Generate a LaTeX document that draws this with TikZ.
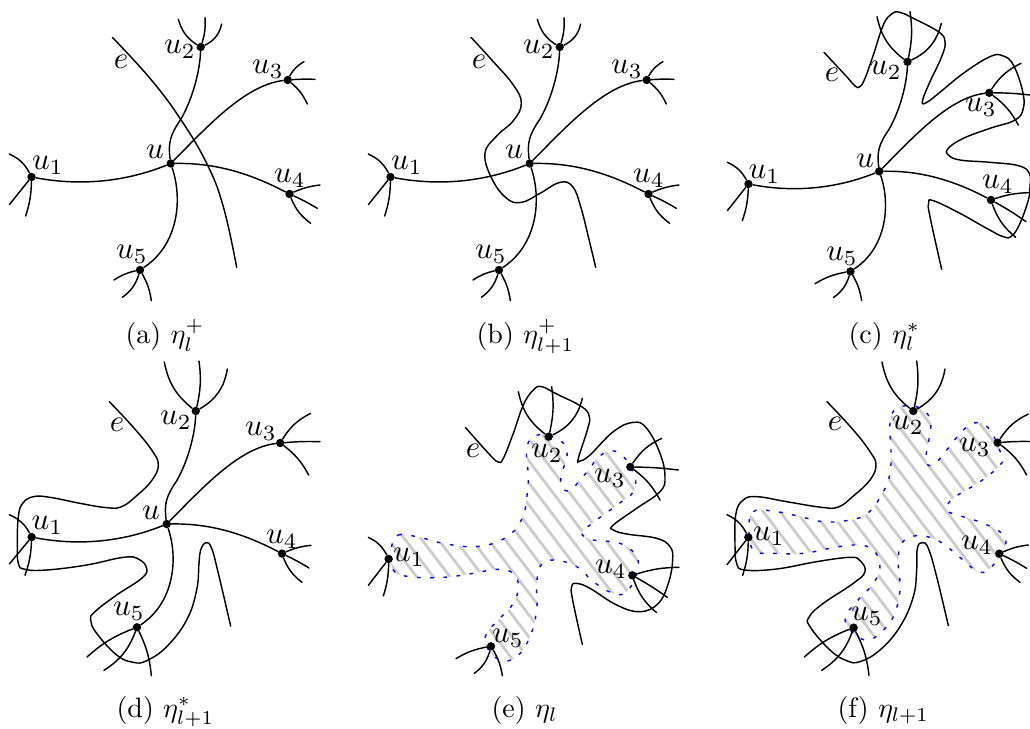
\documentclass[tikz,border=0pt]{standalone}
\tikzset{
  wire/.style={line width=0.72pt,line cap=round},
  dot/.style={circle,fill=black,inner sep=0pt,minimum size=4.2pt},
  lab/.style={scale=1.55,inner sep=0pt},
  captext/.style={scale=1.4,inner sep=0pt,anchor=base west},
  hatch/.style={line width=1.4pt,draw=black!20},
  rim/.style={line width=0.7pt,draw=blue,dash pattern=on 1.8pt off 4.8pt},
  curve/.style={wire,smooth,tension=0.7},
  zoomed/.style={shift={(#1)},scale=1/3},
}
\newcount\stubcount
\newcommand\stubto[3]{\global\advance\stubcount by 1
  \coordinate (stub\the\stubcount) at (#2);
  \draw[wire] (#1) to[bend left=#3] (stub\the\stubcount);}
\newcommand\fan[7]{\stubto{#1}{#2}{#3}\stubto{#1}{#4}{#5}\stubto{#1}{#6}{#7}}
\newcommand\fanI[4]{\fan{#1}{#2}{-18}{#3}{0}{#4}{8}}
\newcommand\fanII[4]{\fan{#1}{#2}{20}{#3}{-10}{#4}{-25}}
\newcommand\fanIII[4]{\fan{#1}{#2}{15}{#3}{3}{#4}{12}}
\newcommand\fanIV[4]{\fan{#1}{#2}{8}{#3}{3}{#4}{-15}}
\newcommand\fanV[4]{\fan{#1}{#2}{-10}{#3}{18}{#4}{10}}
% the centre u, its five neighbours and the five edges between them
\newcommand\hub[4]{\begin{scope}[shift={(#2,#3)},scale=#4]
  \node[dot] (#1u) at (0,0) {};
  \node[dot] (#1u1) at (-139.2,13.5) {};
  \node[dot] (#1u2) at (30,-116.5) {};
  \node[dot] (#1u3) at (117,-83.5) {};
  \node[dot] (#1u4) at (118.8,30.5) {};
  \node[dot] (#1u5) at (-30.7,106.5) {};
  \draw[wire] (#1u) .. controls (-40.7,16.5) and (-85.7,23.5) .. (#1u1);
  \draw[wire] (#1u) .. controls (-2.7,-20.5) and (-0.7,-28.5) .. (10.3,-44.5)
     .. controls (22.3,-65.5) and (29.3,-93.5) .. (#1u2);
  \draw[wire] (#1u) .. controls (36.3,-36.5) and (74.3,-78.5) .. (#1u3);
  \draw[wire] (#1u) .. controls (34.3,-0.5) and (69.3,4.5) .. (#1u4);
  \draw[wire] (#1u) .. controls (12.3,36.5) and (7.3,81.5) .. (#1u5);
\end{scope}}
\newcommand\lab[3]{\node[lab] (#1) at (#2) {$#3$};}
\newcommand\regionE{plot[smooth cycle,tension=0.7] coordinates {(125,530) (145,495) (200,500) (280,520) (360,530) (430,520) (490,485) (520,435) (530,385) (535,320) (530,240) (550,200) (600,197) (645,225) (650,265) (635,310) (635,350) (660,362) (690,330) (720,295) (745,262) (785,242) (825,265) (855,320) (850,365) (815,395) (760,435) (720,465) (695,490) (730,510) (810,520) (860,560) (860,610) (830,665) (790,670) (730,635) (680,590) (610,570) (570,590) (560,650) (560,720) (540,800) (500,860) (450,870) (410,830) (410,790) (450,745) (490,700) (505,650) (490,610) (440,598) (370,610) (280,622) (180,620) (130,600)}}
\newcommand\regionF{plot[smooth cycle,tension=0.7] coordinates {(177,470) (190,425) (240,422) (320,437) (400,455) (480,450) (535,428) (580,365) (600,310) (603,240) (600,160) (620,115) (680,110) (720,145) (718,200) (708,270) (730,285) (770,240) (820,180) (860,158) (900,180) (935,260) (925,290) (870,335) (790,385) (770,420) (810,437) (880,460) (935,490) (945,530) (900,595) (865,605) (825,575) (790,545) (740,510) (680,497) (635,520) (625,580) (630,660) (610,740) (570,790) (530,810) (490,790) (465,745) (500,695) (550,640) (570,590) (550,540) (500,525) (420,535) (340,550) (250,550) (190,540)}}
\begin{document}
\begin{tikzpicture}[x=0.5pt,y=-0.5pt]
\useasboundingbox (0,0) rectangle (1030,729);
% ---------- (a)
\begin{scope}[zoomed={0,0}]
  \draw[curve] plot coordinates {(337,112) (450,235) (540,355) (620,490) (670,620) (710,802)};
\end{scope}
\hub{a}{170.7}{163.5}{1}
\begin{scope}[zoomed={0,0}]
  \fanI{au1}{28,462}{28,614}{77,648}
  \fanII{au2}{535,58}{615,53}{665,72}
  \fanIII{au3}{912,185}{945,238}{922,312}
  \fanIV{au4}{960,555}{952,625}{932,670}
  \fanV{au5}{342,840}{367,892}{454,902}
\end{scope}
\lab{a1}{48,165}{u_1}\lab{a2}{180,49}{u_2}\lab{a3}{268,69}{u_3}\lab{a4}{290,178}{u_4}\lab{a5}{132,254}{u_5}\lab{a0}{155,152}{u}\lab{ae}{121,62}{e}
\node[captext] (capa) at (125,343) {(a)\ $\eta_l^+$};
% ---------- (b)
\begin{scope}[zoomed={350,0}]
  \draw[curve] plot coordinates {(363,112) (430,185) (490,255) (514,310) (490,362) (440,408) (405,460) (425,535) (470,595) (515,607) (570,580) (630,547) (668,560) (692,620) (715,710) (737,802)};
\end{scope}
\hub{b}{529.7}{163.5}{1}
\begin{scope}[zoomed={359,0}]
  \fanI{bu1}{28,462}{28,614}{77,648}
  \fanII{bu2}{535,58}{615,53}{665,72}
  \fanIII{bu3}{912,185}{945,238}{922,312}
  \fanIV{bu4}{960,555}{952,625}{932,670}
  \fanV{bu5}{342,840}{367,892}{454,902}
\end{scope}
\lab{b1}{407,165}{u_1}\lab{b2}{539,49}{u_2}\lab{b3}{627,69}{u_3}\lab{b4}{649,178}{u_4}\lab{b5}{491,254}{u_5}\lab{b0}{514,152}{u}\lab{be}{479,62}{e}
\node[captext] (capb) at (476,343) {(b)\ $\eta_{l+1}^+$};
% ---------- (c)
\begin{scope}[zoomed={690,0}]
  \draw[curve] plot coordinates {(402,157) (470,230) (495,258) (510,260) (525,235) (550,165) (580,75) (605,42) (630,37) (670,55) (745,95) (765,125) (755,170) (720,245) (698,300) (705,310) (740,285) (820,220) (900,170) (940,168) (970,195) (997,270) (1000,325) (975,360) (900,385) (820,415) (775,445) (775,465) (810,480) (900,487) (985,497) (1018,520) (1020,560) (1015,600) (990,670) (965,708) (940,710) (890,685) (810,640) (730,602) (716,610) (720,650) (755,808)};
\end{scope}
\hub{c}{879.3}{171.3}{0.94}
\begin{scope}[zoomed={690,0}]
  \fanI{cu1}{112,487}{112,632}{157,662}
  \fanII{cu2}{561,50}{660,35}{754,70}
  \fanIII{cu3}{993,190}{1020,285}{985,375}
  \fanIV{cu4}{1018,578}{1008,665}{977,712}
  \fanV{cu5}{375,851}{430,893}{515,902}
\end{scope}
\lab{c1}{764.5,174}{u_1}\lab{c2}{886,70.5}{u_2}\lab{c3}{981,107}{u_3}\lab{c4}{998,184}{u_4}\lab{c5}{842,256}{u_5}\lab{c0}{865,161}{u}\lab{ce}{832,75}{e}
\node[captext] (capc) at (848,343) {(c)\ $\eta_l^*$};
% ---------- (d)
\begin{scope}[zoomed={0,350}]
  \draw[curve] plot coordinates {(328,155) (400,232) (455,300) (475,345) (455,392) (410,437) (365,470) (320,473) (240,460) (150,442) (100,440) (68,460) (55,500) (52,580) (55,640) (75,658) (140,660) (260,645) (370,622) (415,627) (440,655) (425,685) (350,735) (285,785) (272,810) (290,850) (350,915) (400,937) (440,932) (500,890) (560,810) (590,720) (597,640) (602,600) (618,578) (635,595) (655,670) (692,828)};
\end{scope}
\hub{d}{166.7}{524}{0.97}
\begin{scope}[zoomed={0,350}]
  \fanI{du1}{28,494}{28,642}{75,676}
  \fanII{du2}{493,36}{597,33}{682,57}
  \fanIII{du3}{932,190}{960,275}{926,375}
  \fanIV{du4}{933,586}{927,654}{906,697}
  \fanV{du5}{261,921}{312,961}{454,977}
\end{scope}
\lab{d1}{47.5,525}{u_1}\lab{d2}{176,420}{u_2}\lab{d3}{261,431}{u_3}\lab{d4}{282,539}{u_4}\lab{d5}{129,611}{u_5}\lab{d0}{151,513}{u}\lab{de}{117,425}{e}
\node[captext] (capd) at (116,717) {(d)\ $\eta_{l+1}^*$};
% ---------- (e)
\begin{scope}[zoomed={350,370}]
  \begin{scope}
    \clip \regionE;
    \foreach \k in {-20,...,30} \draw[hatch] (\k*50+30,0) -- ++(800,1056);
  \end{scope}
  \draw[rim] \regionE;
  \draw[curve] plot coordinates {(346,172) (420,255) (445,276) (460,265) (490,190) (520,105) (550,60) (575,50) (620,72) (695,110) (718,140) (712,180) (685,265) (690,273) (720,255) (790,185) (850,157) (890,175) (930,250) (945,320) (930,365) (860,415) (790,465) (790,480) (830,492) (920,505) (960,530) (968,570) (955,640) (925,700) (870,725) (800,705) (720,655) (680,640) (665,650) (668,690) (697,823)};
  \node[dot] (eu1) at (116,567) {};
  \node[dot] (eu2) at (596,200) {};
  \node[dot] (eu3) at (841,291) {};
  \node[dot] (eu4) at (847,616) {};
  \node[dot] (eu5) at (423,829) {};
  \fanI{eu1}{55,502}{55,646}{100,678}
  \fanII{eu2}{505,65}{605,50}{697,85}
  \fanIII{eu3}{935,205}{985,300}{930,390}
  \fanIV{eu4}{987,592}{952,682}{920,728}
  \fanV{eu5}{318,866}{373,910}{457,917}
\end{scope}
\lab{e1}{409,557}{u_1}\lab{e2}{547,453}{u_2}\lab{e3}{610,478}{u_3}\lab{e4}{611,569}{u_4}\lab{e5}{508,638}{u_5}\lab{ee}{473,451}{e}
\node[captext] (cape) at (491,717) {(e)\ $\eta_l$};
% ---------- (f)
\begin{scope}[zoomed={690,370}]
  \begin{scope}
    \clip \regionF;
    \foreach \k in {-20,...,30} \draw[hatch] (\k*50+48,0) -- ++(800,1056);
  \end{scope}
  \draw[rim] \regionF;
  \draw[curve] plot coordinates {(411,95) (490,180) (540,245) (558,285) (540,330) (490,378) (445,411) (395,412) (290,395) (200,380) (160,390) (138,430) (135,520) (140,580) (165,600) (260,597) (380,575) (480,562) (510,572) (525,605) (490,640) (400,700) (358,740) (360,770) (420,840) (470,872) (510,875) (570,840) (630,770) (670,680) (680,600) (682,535) (697,518) (715,535) (740,620) (775,767)};
  \node[dot] (fu1) at (175,502) {};
  \node[dot] (fu2) at (670,123) {};
  \node[dot] (fu3) at (923,218) {};
  \node[dot] (fu4) at (928,551) {};
  \node[dot] (fu5) at (491,773) {};
  \fanI{fu1}{111,434}{111,584}{158,616}
  \fanII{fu2}{576,-24}{680,-27}{765,-3}
  \fanIII{fu3}{1015,132}{1035,215}{1010,315}
  \fanIV{fu4}{1015,525}{1010,595}{990,637}
  \fanV{fu5}{343,861}{395,901}{537,916}
\end{scope}
\lab{f1}{769,536}{u_1}\lab{f2}{908,425}{u_2}\lab{f3}{975,447}{u_3}\lab{f4}{977,545}{u_4}\lab{f5}{867,616}{u_5}\lab{fe}{835,424}{e}
\node[captext] (capf) at (837,717) {(f)\ $\eta_{l+1}$};
\end{tikzpicture}
\end{document}
